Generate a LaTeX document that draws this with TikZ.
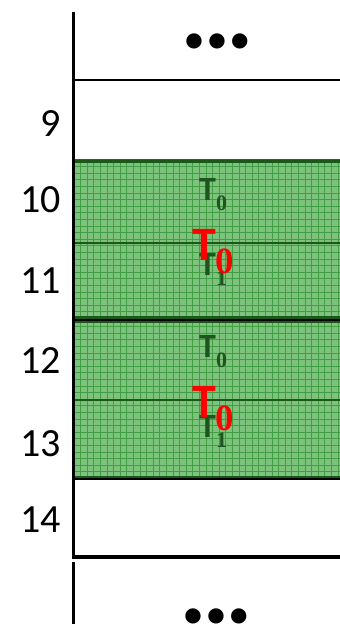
\documentclass[tikz,border=0pt]{standalone}
\usepackage{fontspec}
\setmainfont{Carlito}
\newfontfamily\tnr{Liberation Serif}
\definecolor{gfill}{RGB}{125,195,125}
\definecolor{ggrid}{RGB}{66,158,66}
\definecolor{gdark}{RGB}{26,88,26}
\definecolor{tgreen}{RGB}{30,84,30}
\definecolor{tred}{RGB}{255,0,0}
\tikzset{
  rowlabel/.style={anchor=base east, font=\fontsize{40}{40}\selectfont, inner sep=0pt},
  frame/.style={line width=3.5pt, black},
  sepline/.style={line width=2.5pt, black},
  midline/.style={line width=2pt, gdark},
  gridline/.style={line width=0.9pt, ggrid},
  gT/.style={anchor=base west, inner sep=0pt, text=tgreen, font=\fontsize{34}{34}\selectfont\bfseries},
  rT/.style={anchor=base west, inner sep=0pt, text=tred, font=\fontsize{48}{48}\selectfont\bfseries},
  dots/.style={inner sep=0pt, anchor=center, font=\fontsize{36}{36}\selectfont\bfseries}
}
\newcommand{\mydots}{\raisebox{-10.5pt}[4pt][4pt]{•\hspace{5pt}•\hspace{5pt}•}}
\begin{document}
\begin{tikzpicture}[x=1pt,y=-1pt]
\useasboundingbox (0,0) rectangle (340,624);
% green blocks
\foreach \t in {160,320} {
  \fill[gfill] (74,\t) rectangle (340,\t+159);
  \begin{scope}
    \clip (74,\t) rectangle (340,\t+159);
    \foreach \i in {0,...,41} \draw[gridline] (74+\i*6.6,\t) -- ++(0,160);
    \foreach \j in {0,...,24} \draw[gridline] (74,\t+\j*6.6) -- ++(270,0);
  \end{scope}
  \draw[line width=2.5pt, gdark] (74,\t+1.5) -- (340,\t+1.5);
  \draw[line width=2.5pt, gdark] (74,\t+157.5) -- (340,\t+157.5);
}
\draw[midline] (74,243) -- (340,243);
\draw[midline] (74,400) -- (340,400);
% horizontal separators
\draw[sepline] (74,80) -- (340,80);
\draw[line width=1pt, black!70] (74,159.5) -- (340,159.5);
\draw[sepline] (74,320) -- (340,320);
\draw[sepline] (74,479) -- (340,479);
\draw[frame] (74,557) -- (340,557);
% left axis (two segments)
\draw[frame] (73.5,12) -- (73.5,558.7);
\draw[frame] (73.5,562) -- (73.5,624);
% row labels
\node[rowlabel] (l9)  at (61,136) {9};
\node[rowlabel] (l10) at (61,212) {10};
\node[rowlabel] (l11) at (61,293) {11};
\node[rowlabel] (l12) at (61,373) {12};
\node[rowlabel] (l13) at (61,456) {13};
\node[rowlabel] (l14) at (61,532) {14};
% dots
\node[dots] (dtop) at (217,41) {\mydots};
\node[dots] (dbot) at (216,616) {\mydots};
% block 1 labels
\node[gT] (a0) at (199,200) {T\raisebox{-10pt}{\fontsize{22}{22}\selectfont\tnr\bfseries 0}};
\node[gT] (a1) at (199,275) {T\raisebox{-10pt}{\fontsize{22}{22}\selectfont\tnr\bfseries 1}};
\node[rT] (ar) at (192,260) {T\raisebox{-13pt}{\fontsize{37}{37}\selectfont\tnr\bfseries 0}};
% block 2 labels
\node[gT] (b0) at (199,357) {T\raisebox{-10pt}{\fontsize{22}{22}\selectfont\tnr\bfseries 0}};
\node[gT] (b1) at (199,437) {T\raisebox{-10pt}{\fontsize{22}{22}\selectfont\tnr\bfseries 1}};
\node[rT] (br) at (192,417) {T\raisebox{-13pt}{\fontsize{37}{37}\selectfont\tnr\bfseries 0}};
\end{tikzpicture}
\end{document}
